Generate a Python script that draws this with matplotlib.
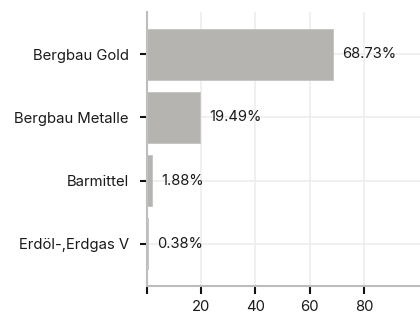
import matplotlib
matplotlib.use("Agg")
import matplotlib.pyplot as plt

categories = ["Bergbau Gold", "Bergbau Metalle", "Barmittel", "Erdöl-,Erdgas V"]
values = [68.73, 19.49, 1.88, 0.38]
xticks = [0, 20, 40, 60, 80]
xtick_labels = ["", "20", "40", "60", "80"]

BAR_COLOR = "#b5b4b0"
TEXT_COLOR = "#1a1a1a"
GRID_COLOR = "#ededed"
SPINE_COLOR = "#bdbdbd"

plt.rcParams["font.family"] = ["Inter", "DejaVu Sans"]

fig = plt.figure(figsize=(4.2, 3.17), dpi=100)
ax = fig.add_axes([147 / 420, 1 - 286 / 317, 1 - 147 / 420, 274 / 317])

ypos = range(len(categories))
ax.barh(ypos, values, height=0.8, color=BAR_COLOR, edgecolor="#c4c3bf",
        linewidth=0.6, zorder=3)
for y, v in zip(ypos, values):
    ax.text(v + 3.3, y, f"{v:.2f}%", va="center", ha="left",
            fontsize=10.6, color=TEXT_COLOR, zorder=4)

ax.set_ylim(3.67, -0.67)
ax.set_xlim(0, 100.7)
ax.set_yticks(list(ypos))
ax.set_yticklabels(categories, fontsize=10.7, color=TEXT_COLOR)
ax.set_xticks(xticks)
ax.set_xticklabels(xtick_labels, fontsize=10.7, color=TEXT_COLOR)
ax.tick_params(axis="y", length=5, width=1.5, color="#111111", pad=8)
ax.tick_params(axis="x", length=6, width=1.5, color="#111111", pad=4)

ax.grid(True, color=GRID_COLOR, linewidth=1.2, zorder=0)
ax.set_axisbelow(True)
ax.spines[["top", "right"]].set_visible(False)
for s in ["left", "bottom"]:
    ax.spines[s].set_color(SPINE_COLOR)
    ax.spines[s].set_linewidth(1.5)

fig.savefig("out.png", dpi=100)
